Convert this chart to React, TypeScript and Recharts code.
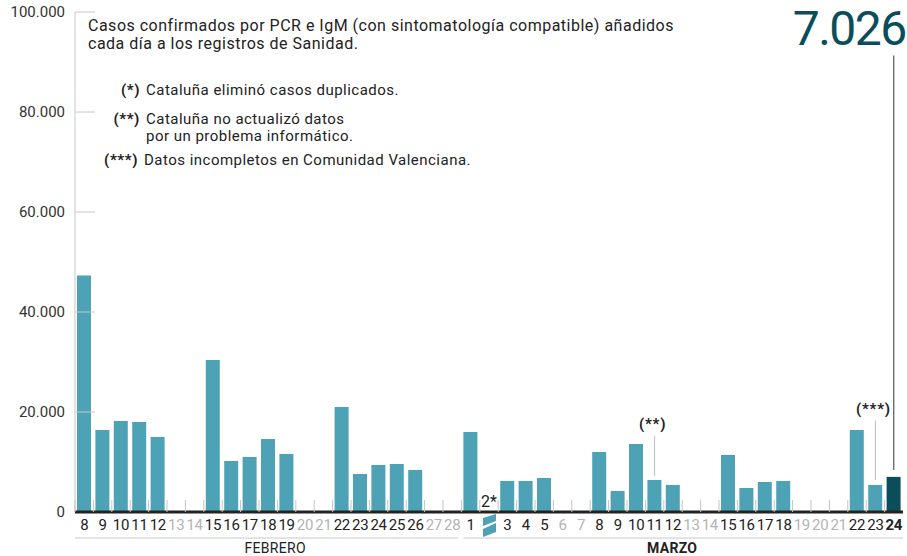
import React from "react";
import { BarChart, Bar, Cell, XAxis, YAxis, ReferenceLine } from "recharts";

// Casos añadidos cada día (febrero y marzo)
const febreroDias = [8, 9, 10, 11, 12, 13, 14, 15, 16, 17, 18, 19, 20, 21, 22, 23, 24, 25, 26, 27, 28];
const febreroCasos = [47300, 16400, 18200, 18000, 15000, null, null, 30400, 10200, 11000, 14600, 11600, null, null, 21000, 7600, 9400, 9600, 8400, null, null];
const marzoDias = [1, 2, 3, 4, 5, 6, 7, 8, 9, 10, 11, 12, 13, 14, 15, 16, 17, 18, 19, 20, 21, 22, 23, 24];
const marzoCasos = [16000, null, 6200, 6200, 6800, null, null, 12000, 4200, 13600, 6400, 5400, null, null, 11400, 4800, 6000, 6200, null, null, null, 16400, 5400, 7026];
const yTicks = [0, 20000, 40000, 60000, 80000, 100000];
const diaDuplicados = "03-02";
const diaSinActualizar = "03-11";
const diaIncompleto = "03-23";
const ultimoDia = "03-24";

const meses = [
  { nombre: "FEBRERO", inicio: "02-08", dias: febreroDias.length, bold: false, dx: 7 },
  { nombre: "MARZO", inicio: "03-01", dias: marzoDias.length, bold: true, dx: -10 },
];

const data = [
  ...febreroDias.map((d, i) => ({ key: `02-${String(d).padStart(2, "0")}`, dia: String(d), casos: febreroCasos[i] })),
  ...marzoDias.map((d, i) => ({ key: `03-${String(d).padStart(2, "0")}`, dia: String(d), casos: marzoCasos[i] })),
];

const W = 907;
const H = 556;
const LEFT = 75;
const RIGHT = 4;
const TOP = 12;
const BOTTOM = 44;
const STEP = (W - LEFT - RIGHT) / data.length;
const FONT = "Roboto, 'Noto Sans', sans-serif";
const TEAL = "#4ea2b6";
const DARK = "#0b4d5a";

const fmt = (n: number) => String(n).replace(/\B(?=(\d{3})+(?!\d))/g, ".");

function YTick({ x, y, payload }: any) {
  return (
    <g>
      {payload.value > 0 && <line x1={LEFT} x2={LEFT + 20} y1={y} y2={y} stroke="#c8c8c8" />}
      <text x={x} y={y + 5} textAnchor="end" fill="#333" fontSize={15} fontFamily={FONT}>
        {fmt(payload.value)}
      </text>
    </g>
  );
}

function XTick({ x, y, payload }: any) {
  const d = data.find((e) => e.key === payload.value)!;
  const bx = x - STEP / 2;
  const especial = d.key === diaDuplicados;
  const gris = d.casos == null && !especial;
  const ultimo = d.key === ultimoDia;
  const mes = meses.find((m) => m.inicio === d.key);
  return (
    <g fontFamily={FONT}>
      <line x1={bx} x2={bx} y1={y - 12} y2={y} stroke="#c4c4c4" />
      {especial ? (
        <g>
          <text x={x} y={y - 5} textAnchor="middle" fill="#222" fontSize={16}>
            2*
          </text>
          <polygon points={`${x - 6},${y + 6} ${x + 7},${y + 2} ${x + 7},${y + 9} ${x - 6},${y + 14}`} fill={TEAL} />
          <polygon points={`${x - 6},${y + 17} ${x + 7},${y + 11} ${x + 7},${y + 20} ${x - 6},${y + 25}`} fill={TEAL} />
        </g>
      ) : (
        <text
          x={x}
          y={y + 18}
          textAnchor="middle"
          fill={gris ? "#b4b4b4" : "#222"}
          fontSize={15}
          fontWeight={ultimo ? 700 : 400}
          letterSpacing={-0.3}
        >
          {d.dia}
        </text>
      )}
      {mes && (
        <g>
          <line
            x1={bx + (mes.inicio === "02-08" ? 0 : 2)}
            x2={bx + mes.dias * STEP - (mes.inicio === "02-08" ? 3 : 0)}
            y1={y + 26}
            y2={y + 26}
            stroke="#c8c8c8"
          />
          <text
            x={bx + (mes.dias * STEP) / 2 + mes.dx}
            y={y + 41}
            textAnchor="middle"
            fill="#222"
            fontSize={14}
            fontWeight={mes.bold ? 700 : 400}
            letterSpacing={0.3}
          >
            {mes.nombre}
          </text>
        </g>
      )}
    </g>
  );
}

const nota = (texto: string, dy = -7) => (props: any) => {
  const vb = props.viewBox;
  return (
    <text x={vb.x - 2} y={vb.y + dy} textAnchor="middle" fill="#222" fontSize={15} fontWeight={700} fontFamily={FONT} letterSpacing={0.8}>
      {texto}
    </text>
  );
};

const ultimoLabel = (props: any) => {
  const vb = props.viewBox;
  return (
    <text x={vb.x + 12} y={vb.y - 11} textAnchor="end" fill={DARK} fontSize={48} fontFamily={FONT} letterSpacing={-1.5}>
      {fmt(7026)}
    </text>
  );
};

const notaStyle: React.CSSProperties = {
  position: "absolute",
  fontSize: 15,
  lineHeight: "17px",
  color: "#222",
  letterSpacing: 0.48,
  whiteSpace: "nowrap",
};
const marca: React.CSSProperties = { position: "absolute", right: "100%", marginRight: 6, fontWeight: 700, whiteSpace: "nowrap", letterSpacing: 0.6 };

export default function App() {
  return (
    <div style={{ position: "absolute", left: 0, top: 0, width: W, height: H, fontFamily: FONT, background: "#fff" }}>
      <BarChart width={W} height={H} data={data} margin={{ top: TOP, right: RIGHT, bottom: 0, left: 0 }}>
        <YAxis
          width={LEFT}
          domain={[0, 100000]}
          ticks={yTicks}
          interval={0}
          tickLine={false}
          tickSize={0}
          tickMargin={10}
          axisLine={{ stroke: "#c8c8c8" }}
          tick={<YTick />}
        />
        <XAxis
          dataKey="key"
          height={BOTTOM}
          interval={0}
          tickLine={false}
          tickSize={0}
          tickMargin={0}
          axisLine={{ stroke: "#222", strokeWidth: 3 }}
          tick={<XTick />}
        />
        <Bar dataKey="casos" barSize={14} isAnimationActive={false}>
          {data.map((d) => (
            <Cell key={d.key} fill={d.key === ultimoDia ? DARK : TEAL} />
          ))}
        </Bar>
        <ReferenceLine segment={[{ x: diaSinActualizar, y: 7200 }, { x: diaSinActualizar, y: 15200 }]} stroke="#bdbdbd" label={nota("(**)")} />
        <ReferenceLine segment={[{ x: diaIncompleto, y: 6400 }, { x: diaIncompleto, y: 18300 }]} stroke="#bdbdbd" label={nota("(***)")} />
        <ReferenceLine segment={[{ x: ultimoDia, y: 8400 }, { x: ultimoDia, y: 91300 }]} stroke="#333" label={ultimoLabel} />
      </BarChart>
      <div style={{ ...notaStyle, left: 88, top: 17, fontSize: 16, lineHeight: "18px", letterSpacing: 0.5 }}>
        Casos confirmados por PCR e IgM (con sintomatología compatible) añadidos
        <br />
        cada día a los registros de Sanidad.
      </div>
      <div style={{ ...notaStyle, left: 146, top: 82 }}>
        <span style={marca}>(*)</span>Cataluña eliminó casos duplicados.
      </div>
      <div style={{ ...notaStyle, left: 146, top: 111 }}>
        <span style={marca}>(**)</span>Cataluña no actualizó datos
        <br />
        por un problema informático.
      </div>
      <div style={{ ...notaStyle, left: 144, top: 152 }}>
        <span style={marca}>(***)</span>Datos incompletos en Comunidad Valenciana.
      </div>
    </div>
  );
}
